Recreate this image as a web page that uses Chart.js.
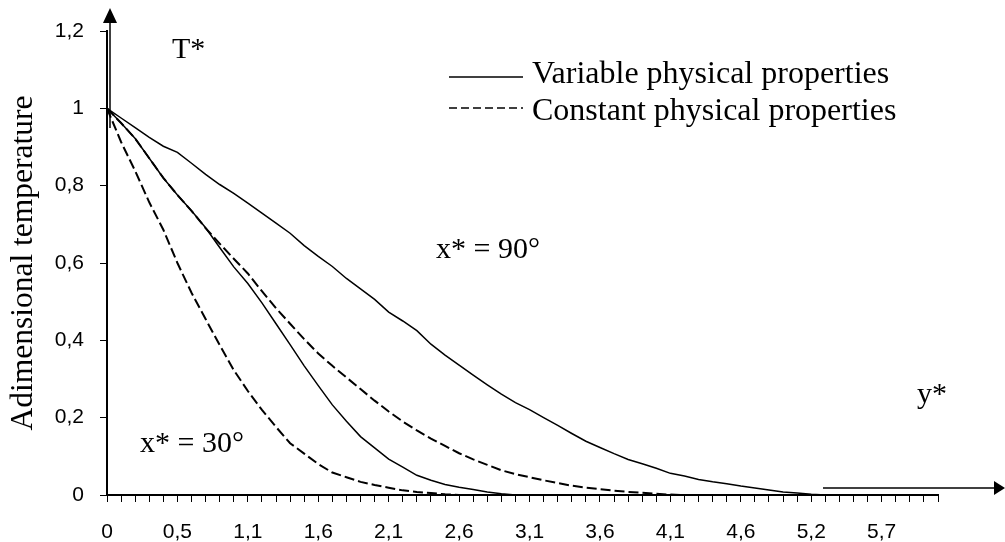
<!DOCTYPE html>
<html>
<head>
<meta charset="utf-8">
<script src="https://cdn.jsdelivr.net/npm/chart.js@4.4.1/dist/chart.umd.min.js"></script>
<style>
    html, body { margin: 0; padding: 0; background: #fff; }
    #wrap { width: 1005px; height: 542px; position: relative; }
</style>
</head>
<body>
<div id="wrap"><canvas id="chart"></canvas></div>
<script>
// Tick labels of the category axis (one label every 5 categories)
const xTickLabels = ['0', '0,5', '1,1', '1,6', '2,1', '2,6', '3,1', '3,6', '4,1', '4,6', '5,2', '5,7'];
const categoryCount = 60;
const yTickLabels = ['0', '0,2', '0,4', '0,6', '0,8', '1', '1,2'];

// Curves
const variableX90 = [1.0, 0.975, 0.95, 0.925, 0.902, 0.886, 0.858, 0.829, 0.803, 0.78,
    0.755, 0.729, 0.703, 0.677, 0.645, 0.617, 0.591, 0.56, 0.533, 0.506,
    0.473, 0.45, 0.425, 0.39, 0.362, 0.336, 0.31, 0.285, 0.261, 0.239,
    0.221, 0.2, 0.18, 0.159, 0.139, 0.123, 0.107, 0.092, 0.081, 0.069,
    0.056, 0.049, 0.04, 0.034, 0.029, 0.023, 0.018, 0.013, 0.008, 0.005,
    0.002, 0, 0, 0, 0, 0, 0, 0, 0, 0];
const constantX90 = [1.0, 0.962, 0.922, 0.871, 0.82, 0.776, 0.735, 0.69, 0.65, 0.611,
    0.573, 0.527, 0.483, 0.443, 0.403, 0.366, 0.334, 0.304, 0.274, 0.244,
    0.216, 0.19, 0.167, 0.146, 0.127, 0.108, 0.092, 0.078, 0.064, 0.054,
    0.046, 0.038, 0.031, 0.024, 0.019, 0.015, 0.011, 0.008, 0.006, 0.003,
    0.001, 0, 0, 0, 0, 0, 0, 0, 0, 0,
    0, 0, 0, 0, 0, 0, 0, 0, 0, 0];
const variableX30 = [1.0, 0.962, 0.922, 0.871, 0.82, 0.776, 0.735, 0.691, 0.64, 0.59,
    0.547, 0.497, 0.443, 0.389, 0.334, 0.283, 0.233, 0.191, 0.151, 0.122,
    0.093, 0.072, 0.051, 0.038, 0.027, 0.02, 0.014, 0.008, 0.003, 0,
    0, 0, 0, 0, 0, 0, 0, 0, 0, 0,
    0, 0, 0, 0, 0, 0, 0, 0, 0, 0,
    0, 0, 0, 0, 0, 0, 0, 0, 0, 0];
const constantX30 = [1.0, 0.913, 0.838, 0.757, 0.686, 0.6, 0.523, 0.455, 0.388, 0.323,
    0.269, 0.22, 0.176, 0.134, 0.107, 0.08, 0.058, 0.046, 0.034, 0.026,
    0.019, 0.012, 0.008, 0.005, 0.002, 0, 0, 0, 0, 0,
    0, 0, 0, 0, 0, 0, 0, 0, 0, 0,
    0, 0, 0, 0, 0, 0, 0, 0, 0, 0,
    0, 0, 0, 0, 0, 0, 0, 0, 0, 0];

const legendLabels = ['Variable physical properties', 'Constant physical properties'];

const categories = [];
for (let i = 0; i < categoryCount; i++) {
    categories.push(i % 5 === 0 ? (xTickLabels[i / 5] || '') : '');
}

const serif = '"Liberation Serif", "Times New Roman", serif';
const sans = '"Liberation Sans", Arial, sans-serif';
const dash = [10, 4];

// Arrows, labels and legend drawn over the chart
const decorations = {
    id: 'decorations',
    afterDraw(chart) {
        const ctx = chart.ctx;
        const area = chart.chartArea;
        ctx.save();
        ctx.strokeStyle = '#000';
        ctx.fillStyle = '#000';

        // vertical arrow
        const ax = area.left + 3;
        ctx.lineWidth = 1.5;
        ctx.beginPath();
        ctx.moveTo(ax, 128);
        ctx.lineTo(ax, 20);
        ctx.stroke();
        ctx.beginPath();
        ctx.moveTo(ax, 8);
        ctx.lineTo(ax - 7, 23);
        ctx.lineTo(ax + 7, 23);
        ctx.closePath();
        ctx.fill();

        // horizontal arrow
        ctx.beginPath();
        ctx.moveTo(823, 488);
        ctx.lineTo(998, 488);
        ctx.stroke();
        ctx.beginPath();
        ctx.moveTo(1005, 488);
        ctx.lineTo(994, 481);
        ctx.lineTo(994, 495);
        ctx.closePath();
        ctx.fill();

        // text labels
        ctx.font = '30px ' + serif;
        ctx.textBaseline = 'alphabetic';
        ctx.textAlign = 'left';
        ctx.fillText('T*', 172, 58);
        ctx.fillText('x* = 90°', 436, 258);
        ctx.fillText('x* = 30°', 140, 452);
        ctx.fillText('y*', 917, 403);

        // legend
        ctx.font = '32px ' + serif;
        const rows = [77, 108];
        legendLabels.forEach((label, i) => {
            ctx.lineWidth = 1.5;
            ctx.setLineDash(i === 0 ? [] : [8, 4]);
            ctx.beginPath();
            ctx.moveTo(449, rows[i]);
            ctx.lineTo(523, rows[i]);
            ctx.stroke();
            ctx.setLineDash([]);
            ctx.fillText(label, 532, i === 0 ? 83 : 120);
        });
        ctx.restore();
    }
};

function lineSet(label, data, dashed) {
    return {
        label: label,
        data: data,
        borderColor: '#000',
        borderWidth: dashed ? 2 : 1.5,
        borderDash: dashed ? dash : [],
        pointRadius: 0,
        tension: 0,
        fill: false
    };
}

document.addEventListener('DOMContentLoaded', function() {
    const ctx = document.getElementById('chart').getContext('2d');
    new Chart(ctx, {
        type: 'line',
        data: {
            labels: categories,
            datasets: [
                lineSet('x* = 30° constant', constantX30, true),
                lineSet('x* = 90° constant', constantX90, true),
                lineSet('x* = 30° variable', variableX30, false),
                lineSet('x* = 90° variable', variableX90, false)
            ]
        },
        options: {
            responsive: true,
            maintainAspectRatio: false,
            animation: false,
            layout: { padding: { top: 31, right: 67, left: 0, bottom: 0 } },
            plugins: {
                legend: { display: false },
                tooltip: { enabled: false }
            },
            scales: {
                x: {
                    type: 'category',
                    offset: false,
                    afterFit: function(scale) { scale.height = 47; },
                    border: { display: true, color: '#000', width: 2 },
                    grid: { drawOnChartArea: false, drawTicks: true, tickLength: 7, color: '#000', lineWidth: 1 },
                    ticks: {
                        autoSkip: false,
                        maxRotation: 0,
                        padding: 18,
                        color: '#000',
                        font: { family: sans, size: 21 }
                    }
                },
                y: {
                    min: 0,
                    max: 1.2,
                    afterFit: function(scale) { scale.width = 107; },
                    border: { display: true, color: '#000', width: 2 },
                    grid: { drawOnChartArea: false, drawTicks: true, tickLength: 7, color: '#000', lineWidth: 1 },
                    ticks: {
                        stepSize: 0.2,
                        padding: 16,
                        color: '#000',
                        font: { family: sans, size: 21 },
                        callback: function(value, index) { return yTickLabels[index]; }
                    },
                    title: {
                        display: true,
                        text: 'Adimensional temperature',
                        color: '#000',
                        font: { family: serif, size: 31.5 },
                        padding: { top: 5, bottom: 0 }
                    }
                }
            }
        },
        plugins: [decorations]
    });
});
</script>
</body>
</html>
